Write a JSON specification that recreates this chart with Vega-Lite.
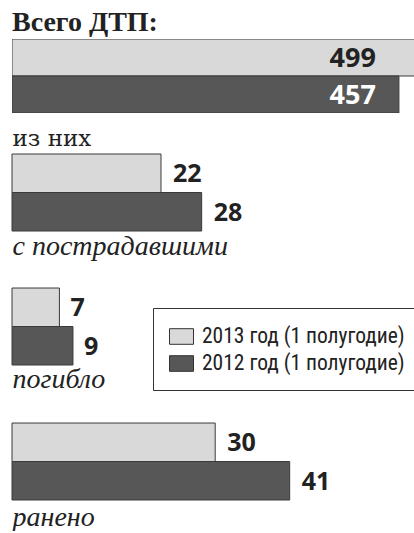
{
  "$schema": "https://vega.github.io/schema/vega-lite/v6.json",
  "padding": {"left": 11, "top": 9, "right": 0, "bottom": 0},
  "background": "white",
  "spacing": 0,
  "config": {"view": {"stroke": null}},
  "data": {"values": [
    {"grp": "Всего ДТП", "year": "2013 год (1 полугодие)", "value": 499},
    {"grp": "Всего ДТП", "year": "2012 год (1 полугодие)", "value": 457},
    {"grp": "с пострадавшими", "year": "2013 год (1 полугодие)", "value": 22},
    {"grp": "с пострадавшими", "year": "2012 год (1 полугодие)", "value": 28},
    {"grp": "погибло", "year": "2013 год (1 полугодие)", "value": 7},
    {"grp": "погибло", "year": "2012 год (1 полугодие)", "value": 9},
    {"grp": "ранено", "year": "2013 год (1 полугодие)", "value": 30},
    {"grp": "ранено", "year": "2012 год (1 полугодие)", "value": 41}
  ]},
  "vconcat": [
    {
      "title": {"text": "Всего ДТП:", "anchor": "start", "frame": "group", "font": "Liberation Serif", "fontSize": 28, "fontWeight": "bold", "color": "#222", "offset": 2},
      "width": 403, "height": 74,
      "transform": [{"filter": "datum.grp === 'Всего ДТП'"}],
      "encoding": {
        "y": {"field": "year", "type": "nominal", "axis": null, "sort": ["2013 год (1 полугодие)", "2012 год (1 полугодие)"], "scale": {"paddingInner": 0, "paddingOuter": 0}}
      },
      "layer": [
        {
          "mark": {"type": "bar", "stroke": "#3a3a3a", "strokeWidth": 1, "clip": true},
          "encoding": {
            "x": {"field": "value", "type": "quantitative", "scale": {"domain": [0, 476], "nice": false},
              "axis": {"title": "из них", "domain": false, "ticks": false, "labels": false, "grid": false, "titleFont": "DejaVu Serif", "titleFontSize": 23, "titleFontWeight": "normal", "titleColor": "#222", "titleAnchor": "start", "titleAlign": "left", "titleBaseline": "alphabetic", "titlePadding": 32}},
            "color": {"field": "year", "type": "nominal", "legend": null, "scale": {"domain": ["2013 год (1 полугодие)", "2012 год (1 полугодие)"], "range": ["#d9d9d9", "#575757"]}}
          }
        },
        {
          "mark": {"type": "text", "align": "right", "baseline": "middle", "dx": -23, "dy": 1, "font": "Open Sans", "fontSize": 27, "fontWeight": "bold"},
          "encoding": {
            "x": {"datum": 457, "type": "quantitative"},
            "text": {"field": "value", "type": "quantitative"},
            "color": {"condition": {"test": "datum.year === '2012 год (1 полугодие)'", "value": "white"}, "value": "#222"}
          }
        }
      ]
    },
    {
      "width": 403, "height": 81,
      "transform": [{"filter": "datum.grp === 'с пострадавшими'"}],
      "encoding": {
        "y": {"field": "year", "type": "nominal", "axis": null, "sort": ["2013 год (1 полугодие)", "2012 год (1 полугодие)"], "scale": {"paddingInner": 0, "paddingOuter": 0.052, "align": 1}},
        "x": {"field": "value", "type": "quantitative", "scale": {"domain": [0, 59.5], "nice": false},
          "axis": {"title": "с пострадавшими", "domain": false, "ticks": false, "labels": false, "grid": false, "titleFont": "Liberation Serif", "titleFontSize": 28, "titleFontStyle": "italic", "titleFontWeight": "normal", "titleColor": "#222", "titleAnchor": "start", "titleAlign": "left", "titleBaseline": "alphabetic", "titlePadding": 23}}
      },
      "layer": [
        {
          "mark": {"type": "bar", "stroke": "#3a3a3a", "strokeWidth": 1},
          "encoding": {
            "color": {"field": "year", "type": "nominal", "legend": null, "scale": {"domain": ["2013 год (1 полугодие)", "2012 год (1 полугодие)"], "range": ["#d9d9d9", "#575757"]}}
          }
        },
        {
          "mark": {"type": "text", "align": "left", "baseline": "middle", "dx": 12, "dy": 1, "font": "Open Sans", "fontSize": 25, "fontWeight": "bold", "color": "#222"},
          "encoding": {"text": {"field": "value", "type": "quantitative"}}
        }
      ]
    },
    {
      "width": 403, "height": 105,
      "transform": [{"filter": "datum.grp === 'погибло'"}],
      "encoding": {
        "y": {"field": "year", "type": "nominal", "axis": null, "sort": ["2013 год (1 полугодие)", "2012 год (1 полугодие)"], "scale": {"paddingInner": 0, "paddingOuter": 0.364, "align": 1}},
        "x": {"field": "value", "type": "quantitative", "scale": {"domain": [0, 59.5], "nice": false},
          "axis": {"title": "погибло", "domain": false, "ticks": false, "labels": false, "grid": false, "titleFont": "Liberation Serif", "titleFontSize": 28, "titleFontStyle": "italic", "titleFontWeight": "normal", "titleColor": "#222", "titleAnchor": "start", "titleAlign": "left", "titleBaseline": "alphabetic", "titlePadding": 22}}
      },
      "layer": [
        {
          "mark": {"type": "bar", "stroke": "#3a3a3a", "strokeWidth": 1},
          "encoding": {
            "color": {"field": "year", "type": "nominal", "scale": {"domain": ["2013 год (1 полугодие)", "2012 год (1 полугодие)"], "range": ["#d9d9d9", "#575757"]},
              "legend": {"orient": "none", "legendX": 141, "legendY": 48, "title": null, "symbolType": "M-1,-0.65H1V0.65H-1Z", "symbolSize": 576, "symbolStrokeColor": "#333", "symbolStrokeWidth": 1, "symbolOpacity": 1, "labelFont": "Roboto Condensed", "labelFontSize": 21.5, "labelColor": "#222", "labelOffset": 8, "labelLimit": 400, "rowPadding": 4, "padding": 16, "strokeColor": "#333", "fillColor": "white"}}
          }
        },
        {
          "mark": {"type": "text", "align": "left", "baseline": "middle", "dx": 11, "dy": 1, "font": "Open Sans", "fontSize": 25, "fontWeight": "bold", "color": "#222"},
          "encoding": {"text": {"field": "value", "type": "quantitative"}}
        }
      ]
    },
    {
      "width": 403, "height": 107,
      "transform": [{"filter": "datum.grp === 'ранено'"}],
      "encoding": {
        "y": {"field": "year", "type": "nominal", "axis": null, "sort": ["2013 год (1 полугодие)", "2012 год (1 полугодие)"], "scale": {"paddingInner": 0, "paddingOuter": 0.39, "align": 1}},
        "x": {"field": "value", "type": "quantitative", "scale": {"domain": [0, 59.5], "nice": false},
          "axis": {"title": "ранено", "domain": false, "ticks": false, "labels": false, "grid": false, "titleFont": "Liberation Serif", "titleFontSize": 28, "titleFontStyle": "italic", "titleFontWeight": "normal", "titleColor": "#222", "titleAnchor": "start", "titleAlign": "left", "titleBaseline": "alphabetic", "titlePadding": 25}}
      },
      "layer": [
        {
          "mark": {"type": "bar", "stroke": "#3a3a3a", "strokeWidth": 1},
          "encoding": {
            "color": {"field": "year", "type": "nominal", "legend": null, "scale": {"domain": ["2013 год (1 полугодие)", "2012 год (1 полугодие)"], "range": ["#d9d9d9", "#575757"]}}
          }
        },
        {
          "mark": {"type": "text", "align": "left", "baseline": "middle", "dx": 12, "dy": 1, "font": "Open Sans", "fontSize": 25, "fontWeight": "bold", "color": "#222"},
          "encoding": {"text": {"field": "value", "type": "quantitative"}}
        }
      ]
    }
  ],
  "resolve": {"scale": {"x": "independent", "y": "independent", "color": "independent"}, "legend": {"color": "independent"}}
}
